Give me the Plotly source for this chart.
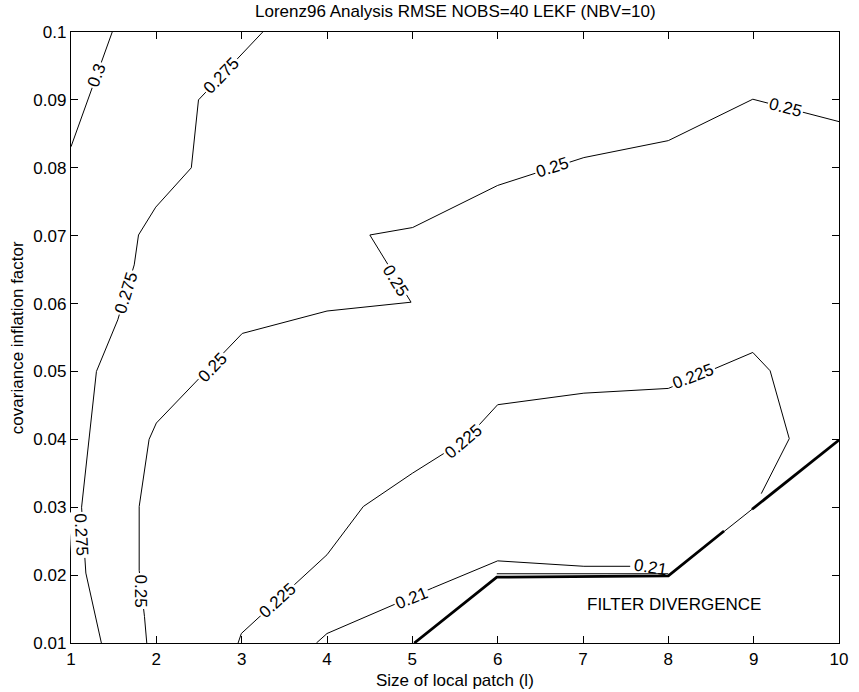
import plotly.graph_objects as go

# ---- contour polylines (x = patch size, y = inflation) ----
c300_x = [1.0, 1.483]
c300_y = [0.0831, 0.1]

c275_x = [3.247, 2.494, 2.41, 1.993, 1.791, 1.741, 1.548, 1.298, 1.124, 1.174, 1.356]
c275_y = [0.1, 0.09, 0.08, 0.0742, 0.0701, 0.0657, 0.0576, 0.050, 0.030, 0.0203, 0.01]

c250_x = [1.888, 1.861, 1.799, 1.799, 1.915, 2.0, 3.007, 4.0, 4.985, 4.502, 5.004,
          6.0, 7.01, 8.0, 8.99, 10.0]
c250_y = [0.01, 0.0139, 0.0207, 0.0301, 0.040, 0.0424, 0.0556, 0.0589, 0.0602, 0.0701, 0.0712,
          0.0774, 0.0815, 0.084, 0.0901, 0.0868]

c225_x = [2.958, 2.996, 4.0, 4.425, 5.0, 5.62, 6.0, 7.01, 8.0, 8.99, 9.193, 9.417, 9.089]
c225_y = [0.01, 0.0114, 0.023, 0.0301, 0.035, 0.0399, 0.0451, 0.0468, 0.0475, 0.0528, 0.0501, 0.0401, 0.032]

c210_x = [3.876, 4.0, 5.236, 6.0, 7.01, 7.553]
c210_y = [0.01, 0.0114, 0.0181, 0.0221, 0.0213, 0.0213]

# filter-divergence boundary (thick), with a short thin stretch
bnd_x = [5.023, 5.99, 8.0, 8.653, 8.981, 10.0]
bnd_y = [0.01, 0.0197, 0.0199, 0.0265, 0.0297, 0.0399]
thick_x = [5.023, 5.99, 8.0, 8.653, None, 8.981, 10.0]
thick_y = [0.01, 0.0197, 0.0199, 0.0265, None, 0.0297, 0.0399]
twin_x = [5.99, 8.0]
twin_y = [0.0202, 0.0202]

# contour labels
lab_text = ["0.3", "0.275", "0.275", "0.275", "0.25", "0.25", "0.25", "0.25", "0.25",
            "0.225", "0.225", "0.225", "0.21", "0.21"]
lab_x = [1.30, 2.765, 1.65, 1.124, 1.819, 2.66, 4.80, 6.64, 9.37,
         3.42, 5.60, 8.29, 4.985, 7.79]
lab_y = [0.0936, 0.0936, 0.0616, 0.0259, 0.0176, 0.0506, 0.0634, 0.0800, 0.0889,
         0.0163, 0.0397, 0.0492, 0.0166, 0.0211]
lab_ang = [-70, -46, -73, 87, 90, -46, 58, -17.7, 14.4,
           -42, -40, -21, -21.8, 9]
lab_bg = [True] * 13 + [False]

x_ticks = [1, 2, 3, 4, 5, 6, 7, 8, 9, 10]
y_ticks = [0.01, 0.02, 0.03, 0.04, 0.05, 0.06, 0.07, 0.08, 0.09, 0.1]
y_tick_text = ["0.01", "0.02", "0.03", "0.04", "0.05", "0.06", "0.07", "0.08", "0.09", "0.1"]

FONT = "Liberation Sans, Arial, Helvetica, sans-serif"
FS = 17

fig = go.Figure()
line = dict(color="black", width=1)
for xs, ys in [(c300_x, c300_y), (c275_x, c275_y), (c250_x, c250_y),
               (c225_x, c225_y), (c210_x, c210_y), (bnd_x, bnd_y), (twin_x, twin_y)]:
    fig.add_trace(go.Scatter(x=xs, y=ys, mode="lines", line=line,
                             hoverinfo="skip", showlegend=False))
fig.add_trace(go.Scatter(x=thick_x, y=thick_y, mode="lines",
                         line=dict(color="black", width=2.8),
                         hoverinfo="skip", showlegend=False, connectgaps=False))

for t, x, y, a, bg in zip(lab_text, lab_x, lab_y, lab_ang, lab_bg):
    fig.add_annotation(x=x, y=y, xref="x", yref="y", text=t, textangle=a,
                       showarrow=False, bgcolor="white" if bg else "rgba(0,0,0,0)",
                       borderpad=1,
                       font=dict(family=FONT, size=FS, color="black"))

fig.add_annotation(x=8.063, y=0.01574, xref="x", yref="y", text="FILTER DIVERGENCE",
                   showarrow=False, font=dict(family=FONT, size=FS, color="black"))

# axis titles and title
fig.add_annotation(x=0.5, y=-(680 - 643) / 611, xref="paper", yref="paper",
                   text="Size of local patch (l)", showarrow=False,
                   xanchor="center", yanchor="middle",
                   font=dict(family=FONT, size=FS, color="black"))
fig.add_annotation(x=(17 - 71) / 777, y=0.5, xref="paper", yref="paper",
                   text="covariance inflation factor", showarrow=False, textangle=-90,
                   xanchor="center", yanchor="middle",
                   font=dict(family=FONT, size=FS, color="black"))
fig.add_annotation(x=0.5, y=1 + (32 - 12) / 611, xref="paper", yref="paper",
                   text="Lorenz96 Analysis RMSE NOBS=40 LEKF (NBV=10)", showarrow=False,
                   xanchor="center", yanchor="middle",
                   font=dict(family=FONT, size=FS, color="black"))

axis_common = dict(showline=True, linecolor="black", linewidth=1.3, mirror="ticks",
                   ticks="inside", ticklen=7, tickwidth=1, tickcolor="black",
                   showgrid=False, zeroline=False,
                   tickfont=dict(family=FONT, size=FS, color="black"))
fig.update_xaxes(range=[1, 10], tickvals=x_ticks, ticktext=[str(v) for v in x_ticks],
                 **axis_common)
fig.update_yaxes(range=[0.01, 0.1], tickvals=y_ticks, ticktext=y_tick_text,
                 **axis_common)

fig.update_layout(width=859, height=692, autosize=False,
                  margin=dict(l=71, r=11, t=32, b=49, pad=0),
                  paper_bgcolor="white", plot_bgcolor="white",
                  font=dict(family=FONT, size=FS, color="black"))

fig.write_html("out.html")
